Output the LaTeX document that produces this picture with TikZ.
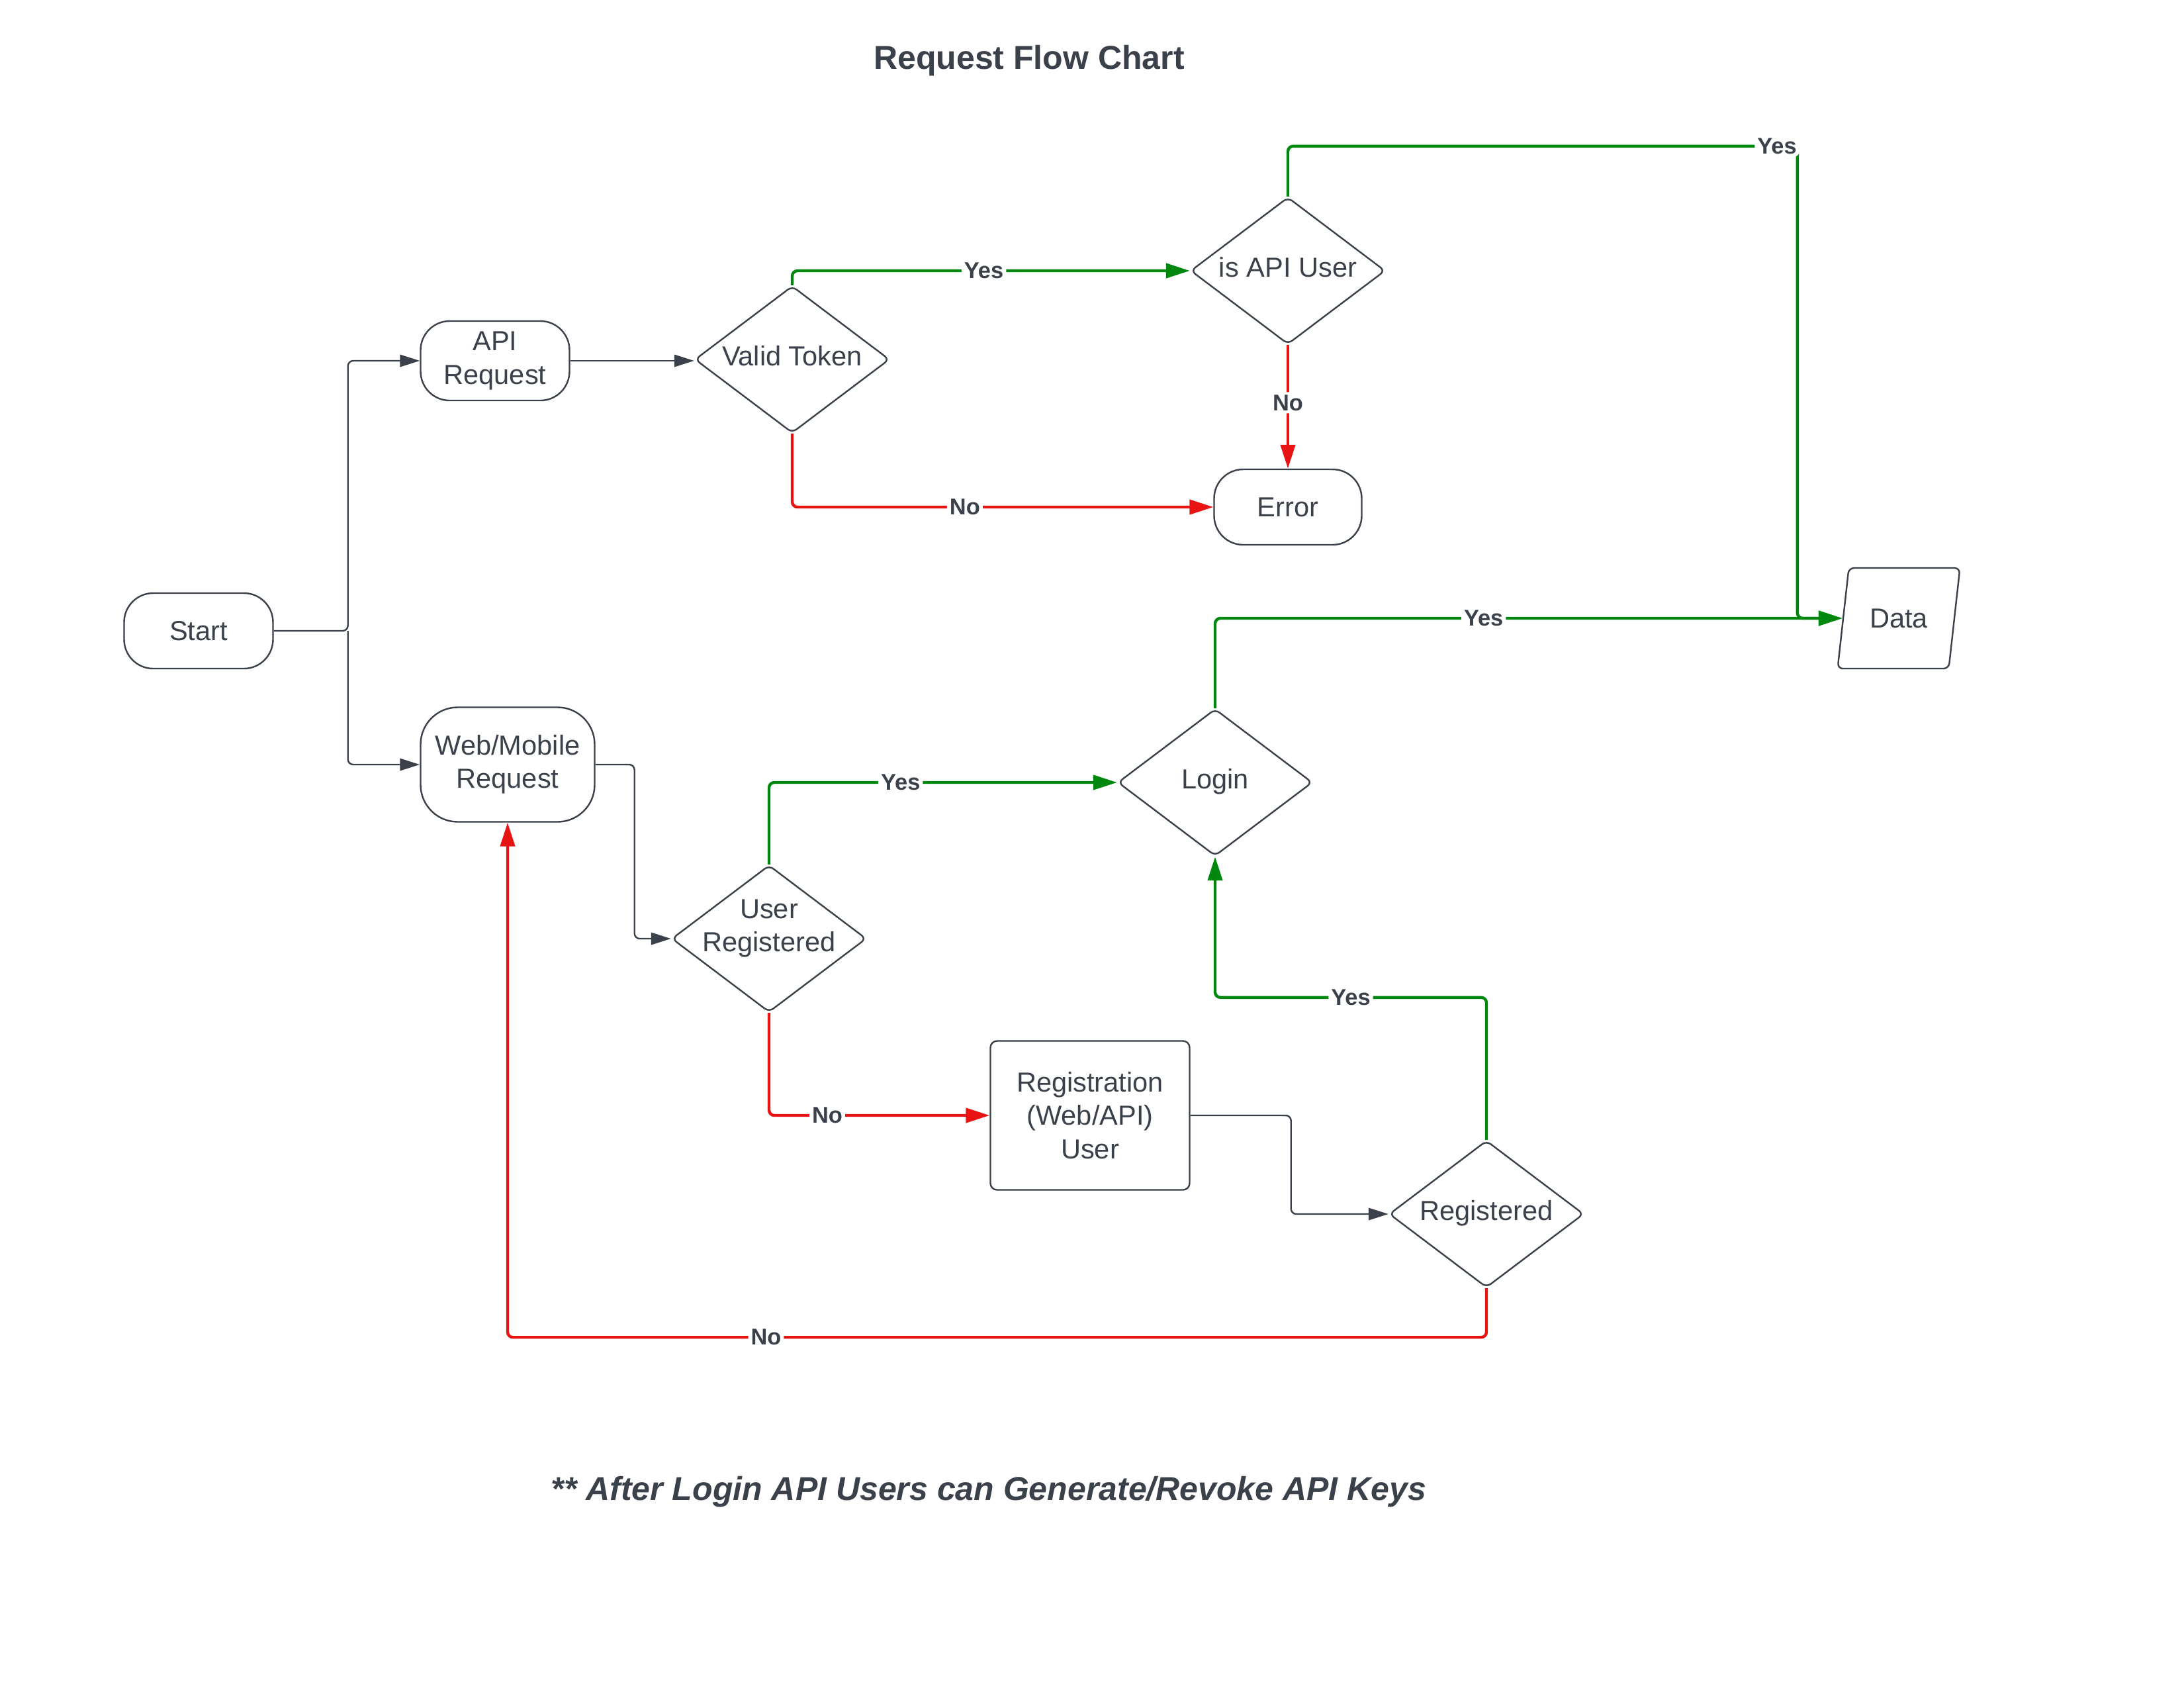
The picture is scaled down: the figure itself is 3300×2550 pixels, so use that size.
\documentclass[tikz,border=0pt]{standalone}
\usepackage{fontspec}
\setmainfont{Liberation Sans}
\usetikzlibrary{arrows.meta,shapes.geometric}

\definecolor{inkgray}{RGB}{58,65,74}
\definecolor{yesgreen}{RGB}{0,136,14}
\definecolor{nored}{RGB}{232,19,19}

% text sits a little above the middle of the diamonds
\newcommand{\liftup}[2]{\raisebox{#1}[0pt][0pt]{\begin{tabular}{@{}c@{}}#2\end{tabular}}}

\tikzset{every picture/.style={line width=0.6pt}}
\tikzset{
  nodetext/.style={text=inkgray, font=\fontsize{10.4}{12.6}\selectfont, align=center},
  terminal/.style={nodetext, draw=inkgray, rectangle, rounded corners=11pt, inner sep=0pt},
  decision/.style={nodetext, draw=inkgray, diamond, aspect=1.33, inner sep=0pt, rounded corners=2pt, minimum width=73.5pt, minimum height=55.5pt},
  process/.style={nodetext, draw=inkgray, rectangle, rounded corners=2.5pt, minimum width=75.25pt, minimum height=56.25pt},
  iobox/.style={nodetext, draw=inkgray, trapezium, trapezium left angle=77, trapezium right angle=103, trapezium stretches=true, rounded corners=2pt, minimum width=46.25pt, minimum height=38pt},
  flow/.style={color=inkgray, line width=0.6pt, rounded corners=2pt, -{Triangle[length=7.5pt,width=4.6pt]}},
  yesflow/.style={flow, color=yesgreen, line width=1.1pt, -{Triangle[length=9pt,width=5.5pt]}},
  noflow/.style={flow, color=nored, line width=1.1pt, -{Triangle[length=9pt,width=5.5pt]}},
  edgelabel/.style={fill=white, text=inkgray, inner sep=1pt, font=\bfseries\fontsize{8.6}{10}\selectfont}
}

\begin{document}
\begin{tikzpicture}[x=0.25pt,y=0.25pt,yscale=-1,xscale=1]
	\useasboundingbox (0,0) rectangle (3300,2550); %page is 3300 wide and 2550 high
	
	% Text Node
	\node[font=\bfseries\fontsize{12.5}{15}\selectfont, text=inkgray] (title) at (1555,92) {Request Flow Chart};
	
	%Shape: Terminal
	\node[terminal, minimum width=56.25pt, minimum height=28.5pt] (start) at (300,953) {Start};
	%Shape: Terminal
	\node[terminal, minimum width=56.25pt, minimum height=30pt] (apireq) at (748,545) {API\\Request};
	%Shape: Terminal
	\node[terminal, rounded corners=14pt, minimum width=65.75pt, minimum height=43.25pt] (webreq) at (767,1155) {Web/Mobile\\Request};
	%Shape: Diamond
	\node[decision] (validtok) at (1197,543) {\liftup{-2.25pt}{Valid Token}};
	%Shape: Diamond
	\node[decision] (isapi) at (1946,409) {\liftup{-2.25pt}{is API User}};
	%Shape: Terminal
	\node[terminal, minimum width=55.75pt, minimum height=28.5pt] (err) at (1946,766) {Error};
	%Shape: Parallelogram
	\node[iobox] (data) at (2869,934) {Data};
	%Shape: Diamond
	\node[decision] (login) at (1836,1182) {\liftup{-2.25pt}{Login}};
	%Shape: Diamond
	\node[decision] (usrreg) at (1162,1418) {\liftup{1.4pt}{User\\Registered}};
	%Shape: Rectangle
	\node[process] (regist) at (1647,1685) {Registration\\(Web/API)\\User};
	%Shape: Diamond
	\node[decision] (regd) at (2246,1834) {\liftup{-2.25pt}{Registered}};
	
	%Connectors
	\coordinate (fork) at ([xshift=28pt]start.east);
	\draw[flow] (start.east) -- (fork) |- (apireq.west);
	\draw[flow] (fork) |- (webreq.west);
	\draw[flow] (apireq.east) -- (apireq.east -| validtok.west);
	\draw[yesflow] (validtok.north) |- node[edgelabel,pos=0.741]{Yes} (isapi.west);
	\draw[noflow] (validtok.south) |- node[edgelabel,pos=0.705]{No} (err.west);
	\draw[noflow] (isapi.south) -- node[edgelabel,pos=0.467]{No} (err.north);
	\draw[yesflow] (isapi.north) -- ++(0,-76) -| node[edgelabel,pos=0.48]{Yes} ([xshift=-17pt]data.west) -- (data.west);
	\draw[yesflow] (login.north) |- node[edgelabel,pos=0.714]{Yes} (data.west);
	\draw[flow] (webreq.east) -- ++(59,0) |- (usrreg.west);
	\draw[yesflow] (usrreg.north) |- node[edgelabel,pos=0.689]{Yes} (login.west);
	\draw[noflow] (usrreg.south) |- node[edgelabel,pos=0.632]{No} (regist.west);
	\draw[flow] (regist.east) -- ++(152,0) |- (regd.west);
	\draw[yesflow] (regd.north) -- ++(0,-215) -| node[edgelabel,pos=0.25]{Yes} (login.south);
	\draw[noflow] (regd.south) -- ++(0,74) -| node[edgelabel,pos=0.368]{No} (webreq.south);
	
	% Text Node
	\node[font=\bfseries\itshape\fontsize{12.5}{15}\selectfont, text=inkgray] (note) at (1494,2254) {** After Login API Users can Generate/Revoke API Keys};
	
\end{tikzpicture}
\end{document}
